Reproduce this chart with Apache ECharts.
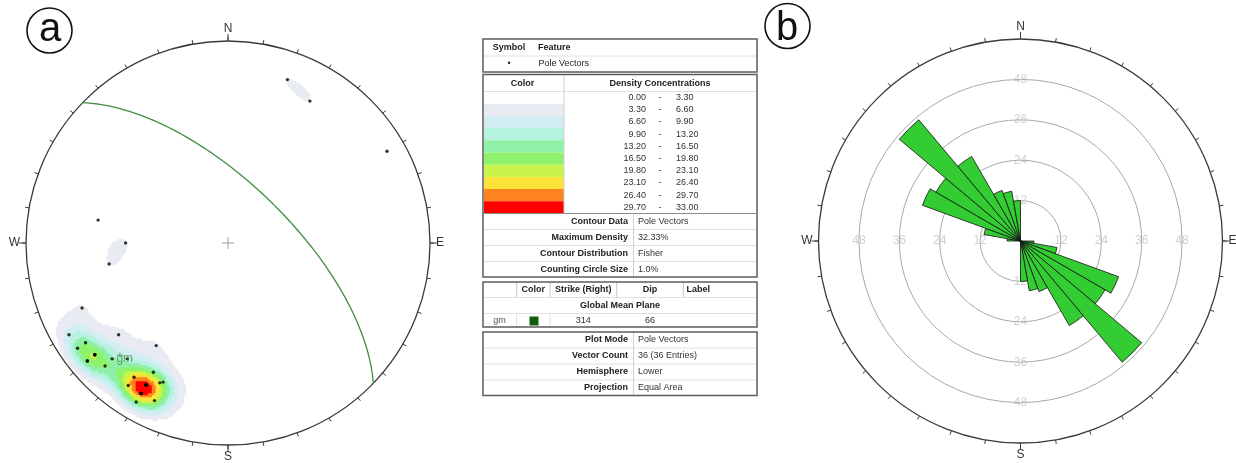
<!DOCTYPE html>
<html>
<head>
<meta charset="utf-8">
<script src="https://cdn.jsdelivr.net/npm/echarts@6.0.0/dist/echarts.min.js"></script>
<style>
	html, body { margin: 0; padding: 0; background: #fff; }
	#chart { width: 1236px; height: 463px; }
</style>
</head>
<body>
<div id="chart"></div>
<script>
// pole vectors (trend / plunge, degrees), read off the lower hemisphere net
// (several poles coincide inside the densest part of the cluster)
const poleTrends = [20, 30, 60, 280, 270, 260, 246, 240, 230, 215, 235, 235, 230, 225, 221, 230, 225, 210, 215, 206, 205, 210, 215, 210, 205, 210, 210, 210, 210, 210, 210, 210, 210, 230, 230, 230]
const polePlunges = [15, 20, 10, 35, 48, 40, 22, 10, 30, 38, 15, 10, 15, 20, 25, 10, 15, 27, 20, 24, 25, 20, 15, 15, 15, 10, 20, 20, 20, 20, 15, 15, 15, 15, 15, 10]

// global mean plane
const meanLabel = "gm"
const meanStrike = 314
const meanDip = 66
const meanColor = "#0b5e0b"

// contour legend
const densityBreaks = [0, 3.3, 6.6, 9.9, 13.2, 16.5, 19.8, 23.1, 26.4, 29.7, 33.0]
const densityColors = ["#ffffff", "#e8ecf2", "#d3eef2", "#b5f2e0", "#8ff0a8", "#8ef26c", "#c9f54a", "#fde23a", "#fd8320", "#fe0000"]
const maxDensity = 32.33
const fisherK = 100

const featureSymbols = ["•"]
const featureNames = ["Pole Vectors"]
const contourLabels = ["Contour Data", "Maximum Density", "Contour Distribution", "Counting Circle Size"]
const contourValues = ["Pole Vectors", maxDensity.toFixed(2) + "%", "Fisher", "1.0%"]
const planeHeaders = ["", "Color", "Strike (Right)", "Dip", "Label"]
const plotLabels = ["Plot Mode", "Vector Count", "Hemisphere", "Projection"]
const plotValues = ["Pole Vectors", "36 (36 Entries)", "Lower", "Equal Area"]

// rose diagram: strike bins (0-180, mirrored to 180-360)
const strikeBins = [0, 10, 20, 30, 40, 50, 60, 70, 80, 90, 100, 110, 120, 130, 140, 150, 160, 170]
const strikeCounts = [0, 0, 0, 0, 0, 0, 0, 0, 0, 4, 11, 31, 29, 47, 29, 16, 15, 12]
const ringValues = [12, 24, 36, 48]
const ringAngles = [0, 90, 180, 270]
const compassLabels = ["N", "E", "S", "W"]

const D = Math.PI / 180
const FONT = '"Liberation Sans", Arial, sans-serif'

function toVec(trend, plunge) {
	let t = trend * D, p = plunge * D
	return [Math.cos(p) * Math.sin(t), Math.cos(p) * Math.cos(t), Math.sin(p)]
}

// equal area, lower hemisphere, unit primitive
function project(trend, plunge) {
	let r = Math.SQRT2 * Math.sin((90 - plunge) * D / 2)
	return [r * Math.sin(trend * D), r * Math.cos(trend * D)]
}

let poles = poleTrends.map(function (t, i) {
	return project(t, polePlunges[i])
})

// great circle of the mean plane
let arc = []
{
	let sv = [Math.sin(meanStrike * D), Math.cos(meanStrike * D), 0]
	let dv = toVec(meanStrike + 90, meanDip)
	for (let a = 0; a <= 180; a += 2) {
		let c = Math.cos(a * D), s = Math.sin(a * D)
		let v = [c * sv[0] + s * dv[0], c * sv[1] + s * dv[1], c * sv[2] + s * dv[2]]
		arc.push(project(Math.atan2(v[0], v[1]) / D, Math.asin(Math.min(1, v[2])) / D))
	}
}
let meanPole = project(meanStrike + 90 + 180, 90 - meanDip)

// fisher density (percent per 1% area) on a grid
const G = 202
let cells = []
for (let i = 0; i < G; i++) cells.push(i)
let heatData = []
{
	let vecs = poleTrends.map(function (t, i) { return toVec(t, polePlunges[i]) })
	let weight = 100 / vecs.length * fisherK / 100
	for (let i = 0; i < G; i++) {
		for (let j = 0; j < G; j++) {
			let x = -1 + (i + 0.5) * 2 / G
			let y = -1 + (j + 0.5) * 2 / G
			let r = Math.sqrt(x * x + y * y)
			if (r > 1) continue
			let theta = 2 * Math.asin(r / Math.SQRT2)
			let tr = Math.atan2(x, y)
			let v = [Math.sin(theta) * Math.sin(tr), Math.sin(theta) * Math.cos(tr), Math.cos(theta)]
			let s = 0
			vecs.forEach(function (p) {
				let d = p[0] * v[0] + p[1] * v[1] + p[2] * v[2]
				s += Math.exp(fisherK * (d - 1))
			})
			s *= weight
			if (s >= densityBreaks[1]) heatData.push([i, j, s])
		}
	}
}

let pieces = []
for (let k = 1; k < densityColors.length; k++) {
	pieces.push({ gte: densityBreaks[k], lt: k == densityColors.length - 1 ? 1000 : densityBreaks[k + 1], color: densityColors[k] })
}

// rose bins, bidirectional
let roseCats = [], roseData = []
for (let h = 0; h < 2; h++) {
	strikeBins.forEach(function (b, i) {
		roseCats.push(String(b + h * 180))
		roseData.push(strikeCounts[i] > 0 ? strikeCounts[i] : "-")
	})
}
let ringLabels = []
ringAngles.forEach(function (a) {
	ringValues.forEach(function (v) { ringLabels.push([v, a]) })
})

// legend table and panel letters
let g = []
function rect(x, y, w, h, fill, stroke, lw) {
	g.push({ type: "rect", shape: { x: x, y: y, width: w, height: h }, style: { fill: fill, stroke: stroke || null, lineWidth: lw || 0 } })
}
function line(x1, y1, x2, y2, color, lw) {
	g.push({ type: "line", shape: { x1: x1, y1: y1, x2: x2, y2: y2 }, style: { stroke: color || "#e0e0e0", lineWidth: lw || 1 } })
}
function text(x, y, s, align, bold, color, size) {
	g.push({ type: "text", x: x, y: y, style: { text: s, font: (bold ? "bold " : "") + (size || 9) + "px " + FONT, fill: color || "#222", align: align || "left", verticalAlign: "middle" } })
}
const frame = "#5c5c5c"
const tL = 483, tW = 274

// box 1
text(509, 47.5, "Symbol", "center", true)
text(538, 47.5, "Feature", "left", true)
line(484, 56, 756, 56)
text(509, 64, featureSymbols[0], "center")
text(538.5, 64, featureNames[0])
rect(tL, 39, tW, 33, "none", frame, 1.5)

// box 2
{
	let rowH = 12.2, rowTop = 91.5
	densityColors.forEach(function (c, i) {
		rect(484, rowTop + i * rowH, 80, rowH, c)
		let yc = rowTop + (i + 0.5) * rowH
		text(646, yc, densityBreaks[i].toFixed(2), "right", false, "#333")
		text(660, yc, "-", "center", false, "#333")
		text(676, yc, densityBreaks[i + 1].toFixed(2), "left", false, "#333")
	})
	text(522.5, 83.5, "Color", "center", true)
	text(660, 83.5, "Density Concentrations", "center", true)
	line(484, 91.5, 756, 91.5)
	line(564, 75, 564, 213.5, "#d0d0d0")
	line(484, 213.5, 756, 213.5, "#8c8c8c")
	contourLabels.forEach(function (s, i) {
		let yc = 221.5 + i * 16
		text(628, yc, s, "right", true)
		text(638, yc, contourValues[i], "left", false, "#333")
		if (i > 0) line(484, yc - 8, 756, yc - 8)
	})
	line(633.5, 213.5, 633.5, 276.5, "#d0d0d0")
	rect(tL, 74.5, tW, 202.5, "none", frame, 1.5)
}

// box 3
{
	let colX = [483, 516.7, 550, 616.7, 683.3]
	let colC = [499.5, 533.3, 583.3, 650, 686.5]
	planeHeaders.forEach(function (s, i) {
		text(colC[i], 289.5, s, i == 4 ? "left" : "center", true)
		if (i > 0) line(colX[i], 282, colX[i], 297.5, "#c8c8c8")
	})
	line(484, 297.5, 756, 297.5)
	text(620, 305.5, "Global Mean Plane", "center", true)
	line(484, 313.5, 756, 313.5)
	line(516.7, 313.5, 516.7, 326.5, "#e0e0e0")
	line(550, 313.5, 550, 326.5, "#e0e0e0")
	text(499.5, 321, meanLabel, "center", false, "#555")
	rect(529.5, 316.5, 9, 9, meanColor)
	text(583.3, 321, String(meanStrike), "center", false, "#333")
	text(650, 321, String(meanDip), "center", false, "#333")
	rect(tL, 282, tW, 45, "none", frame, 1.5)
}

// box 4
plotLabels.forEach(function (s, i) {
	let yc = 340 + i * 16
	text(628, yc, s, "right", true)
	text(638, yc, plotValues[i], "left", false, "#333")
	if (i > 0) line(484, yc - 8, 756, yc - 8)
})
line(633.5, 332, 633.5, 395.5, "#d0d0d0")
rect(tL, 332, tW, 63.5, "none", frame, 1.5)

// panel letters
g.push({ type: "circle", shape: { cx: 49.5, cy: 30.5, r: 22.5 }, style: { fill: "none", stroke: "#111", lineWidth: 1.6 } })
text(50, 29.5, "a", "center", false, "#111", 40)
g.push({ type: "circle", shape: { cx: 787.5, cy: 26, r: 22.5 }, style: { fill: "none", stroke: "#111", lineWidth: 1.6 } })
text(787, 28.5, "b", "center", false, "#111", 40)

function compassFormatter(v) {
	return v < 360 ? compassLabels[v / 90] : ""
}

function tickAxis(polarIndex) {
	return {
		polarIndex: polarIndex, type: "value", min: 0, max: 360, interval: 10, startAngle: 90, clockwise: true,
		axisLine: { lineStyle: { color: "#3a3a3a", width: 1.3 } },
		axisTick: { show: true, inside: false, length: 4, lineStyle: { color: "#3a3a3a", width: 1 } },
		axisLabel: { show: false },
		splitLine: { show: false }
	}
}
function cardinalAxis(polarIndex) {
	return {
		polarIndex: polarIndex, type: "value", min: 0, max: 360, interval: 90, startAngle: 90, clockwise: true,
		axisLine: { show: false },
		axisTick: { show: true, inside: false, length: 7, lineStyle: { color: "#3a3a3a", width: 1 } },
		axisLabel: { show: true, margin: 6, color: "#333", fontSize: 12, fontFamily: FONT, formatter: compassFormatter },
		splitLine: { show: false }
	}
}
function hiddenRadius(polarIndex, max) {
	return { polarIndex: polarIndex, type: "value", min: 0, max: max, show: false }
}

const netCenter = [228, 243]
const roseCenter = [1020.5, 241]

let chart = echarts.init(document.getElementById("chart"))
let option = {
	animation: false,
	grid: [
		{ left: 26, top: 41, width: 404, height: 404, show: false },
		{ left: 26, top: 41, width: 404, height: 404, show: false }
	],
	xAxis: [
		{ gridIndex: 0, type: "category", data: cells, show: false },
		{ gridIndex: 1, type: "value", min: -1, max: 1, show: false }
	],
	yAxis: [
		{ gridIndex: 0, type: "category", data: cells, show: false },
		{ gridIndex: 1, type: "value", min: -1, max: 1, show: false }
	],
	polar: [
		{ center: netCenter, radius: 202 },
		{ center: netCenter, radius: 202 },
		{ center: roseCenter, radius: 202 },
		{ center: roseCenter, radius: 202 },
		{ center: roseCenter, radius: 202 }
	],
	angleAxis: [
		tickAxis(0),
		cardinalAxis(1),
		tickAxis(2),
		cardinalAxis(3),
		{ polarIndex: 4, type: "category", data: roseCats, startAngle: 90, clockwise: true, show: false }
	],
	radiusAxis: [
		hiddenRadius(0, 1),
		hiddenRadius(1, 1),
		hiddenRadius(2, 60),
		{
			polarIndex: 3, type: "value", min: 0, max: 60, interval: 12,
			axisLine: { show: false }, axisTick: { show: false }, axisLabel: { show: false },
			splitLine: { show: true, lineStyle: { color: ["rgba(0,0,0,0)", "#a8a8a8", "#a8a8a8", "#a8a8a8", "#a8a8a8", "rgba(0,0,0,0)"], width: 1 } }
		},
		hiddenRadius(4, 60)
	],
	visualMap: {
		type: "piecewise",
		show: false,
		seriesIndex: 0,
		dimension: 2,
		pieces: pieces
	},
	series: [
		{
			type: "heatmap",
			xAxisIndex: 0,
			yAxisIndex: 0,
			data: heatData,
			progressive: 0,
			emphasis: { disabled: true },
			z: 1
		},
		{
			type: "line",
			xAxisIndex: 1,
			yAxisIndex: 1,
			data: arc,
			showSymbol: false,
			lineStyle: { color: "#3f8f41", width: 1.3 },
			z: 3
		},
		{
			type: "scatter",
			xAxisIndex: 1,
			yAxisIndex: 1,
			data: poles,
			symbol: "circle",
			symbolSize: 3.4,
			itemStyle: { color: "#000" },
			z: 4
		},
		{
			type: "scatter",
			xAxisIndex: 1,
			yAxisIndex: 1,
			data: [meanPole],
			symbol: "path://M5,0V10M0,5H10",
			symbolSize: 6,
			itemStyle: { color: "none", borderColor: "#7fb07f", borderWidth: 1 },
			label: { show: true, position: [2, 3], formatter: meanLabel, color: "#3f8f41", fontSize: 12, fontFamily: FONT },
			z: 4
		},
		{
			type: "scatter",
			xAxisIndex: 1,
			yAxisIndex: 1,
			data: [[0, 0]],
			symbol: "path://M6,0V12M0,6H12",
			symbolSize: 12,
			itemStyle: { color: "none", borderColor: "#8a8a8a", borderWidth: 1 },
			z: 3
		},
		{
			type: "scatter",
			coordinateSystem: "polar",
			polarIndex: 3,
			data: ringLabels,
			symbolSize: 1,
			itemStyle: { color: "rgba(0,0,0,0)" },
			label: { show: true, position: "inside", color: "#c4c4c4", fontSize: 12, fontFamily: FONT, formatter: function (p) { return p.value[0] } },
			z: 1
		},
		{
			type: "bar",
			coordinateSystem: "polar",
			polarIndex: 4,
			data: roseData,
			barCategoryGap: "0%",
			itemStyle: { color: "#33cc33", borderColor: "#111", borderWidth: 0.8 },
			z: 5
		}
	],
	graphic: { elements: g }
}
chart.setOption(option)
</script>
</body>
</html>
